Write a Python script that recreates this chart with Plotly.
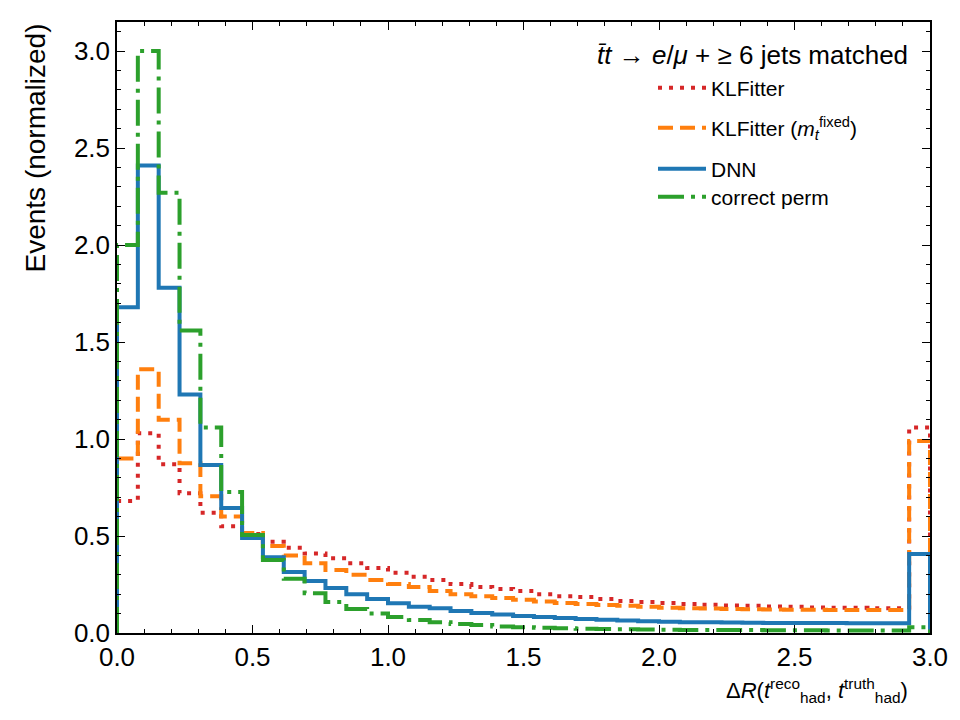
import plotly.graph_objects as go

# ---- data (39 bins from 0 to 3.0, last bin = overflow) ----
x_min = 0.0
x_max = 3.0
n_bins = 39

klfitter = [0.68, 1.03, 0.87, 0.72, 0.62, 0.55, 0.51, 0.47, 0.44, 0.41,
            0.385, 0.36, 0.335, 0.31, 0.29, 0.273, 0.252, 0.237, 0.227, 0.216,
            0.200, 0.190, 0.185, 0.175, 0.165, 0.160, 0.155, 0.150, 0.145, 0.142,
            0.140, 0.137, 0.135, 0.132, 0.130, 0.130, 0.128, 0.127, 1.06]
klfitter_fixed = [0.90, 1.36, 1.10, 0.875, 0.705, 0.60, 0.515, 0.448, 0.40, 0.36,
                  0.325, 0.30, 0.273, 0.252, 0.237, 0.216, 0.200, 0.190, 0.180, 0.172,
                  0.162, 0.155, 0.150, 0.144, 0.140, 0.135, 0.130, 0.128, 0.126, 0.124,
                  0.122, 0.121, 0.120, 0.120, 0.119, 0.118, 0.118, 0.118, 0.99]
dnn = [1.68, 2.41, 1.78, 1.23, 0.866, 0.644, 0.49, 0.39, 0.315, 0.268,
       0.232, 0.200, 0.175, 0.154, 0.135, 0.127, 0.113, 0.103, 0.095, 0.088,
       0.082, 0.077, 0.072, 0.068, 0.064, 0.060, 0.058, 0.056, 0.055, 0.054,
       0.053, 0.052, 0.052, 0.051, 0.051, 0.050, 0.050, 0.050, 0.407]
correct_perm = [2.00, 3.00, 2.27, 1.56, 1.06, 0.727, 0.505, 0.376, 0.28, 0.205,
                0.160, 0.124, 0.100, 0.083, 0.067, 0.056, 0.046, 0.041, 0.034, 0.030,
                0.027, 0.025, 0.022, 0.020, 0.019, 0.018, 0.017, 0.016, 0.016, 0.015,
                0.015, 0.014, 0.014, 0.014, 0.013, 0.013, 0.013, 0.013, 0.030]

x_ticks = [0.0, 0.5, 1.0, 1.5, 2.0, 2.5, 3.0]
y_ticks = [0.0, 0.5, 1.0, 1.5, 2.0, 2.5, 3.0]

names = ["KLFitter",
         "KLFitter (<i>m</i><sub><i>t</i></sub><sup>fixed</sup>)",
         "DNN",
         "correct perm"]
colors = ["#d62728", "#ff7f0e", "#1f77b4", "#2ca02c"]
dashes = ["4px,7px", "15px,7px", "solid", "26px,7px,4px,7px"]
widths = [4, 4, 4, 4]

edges = [x_min + (x_max - x_min) * i / n_bins for i in range(n_bins + 1)]


def step_xy(vals):
    xs = [edges[0]] + edges + [edges[-1]]
    ys = [0.0] + list(vals) + [vals[-1], 0.0]
    return xs, ys


legend_ids = ["legend", "legend2", "legend3", "legend4"]

fig = go.Figure()
for i, (vals, nm, c, d, w) in enumerate(zip(
        [klfitter, klfitter_fixed, dnn, correct_perm], names, colors, dashes, widths)):
    xs, ys = step_xy(vals)
    fig.add_trace(go.Scatter(x=xs, y=ys, mode="lines", name=nm,
                             legend=legend_ids[i],
                             line=dict(color=c, width=w, dash=d, shape="hv")))

font_family = "Liberation Sans, Arial, sans-serif"

axis_common = dict(
    showline=True, linecolor="black", linewidth=1.5, mirror="allticks",
    ticks="inside", ticklen=8, tickwidth=1.3, tickcolor="black",
    showgrid=False, zeroline=False,
    tickfont=dict(family=font_family, size=26, color="black"),
    tickformat=".1f",
)

# plot-area geometry (pixels) used to place legends/annotations
L, R, T, B = 117, 30, 22, 87
W, H = 960, 720
pw, ph = W - L - R, H - T - B


def px_x(px):
    return (px - L) / pw


def px_y(py):
    return (H - B - py) / ph


legend_rows = [88, 128, 169, 197]
legend_font = dict(family=font_family, size=21, color="black")
legend_common = dict(xanchor="left", yanchor="middle",
                     bgcolor="rgba(0,0,0,0)", borderwidth=0,
                     itemwidth=48, font=legend_font)

fig.update_layout(
    width=W, height=H,
    margin=dict(l=L, r=R, t=T, b=B),
    plot_bgcolor="white", paper_bgcolor="white",
    font=dict(family=font_family, size=21, color="black"),
    xaxis=dict(range=[x_min, x_max], tickvals=x_ticks,
               minor=dict(dtick=0.1, ticks="inside", ticklen=4, tickcolor="black", tickwidth=1),
               **axis_common),
    yaxis=dict(range=[0, 3.15], tickvals=y_ticks,
               minor=dict(dtick=0.1, ticks="inside", ticklen=4, tickcolor="black", tickwidth=1),
               **axis_common),
    showlegend=True,
    legend=dict(x=px_x(653), y=px_y(legend_rows[0]), **legend_common),
    legend2=dict(x=px_x(653), y=px_y(legend_rows[1]), **legend_common),
    legend3=dict(x=px_x(653), y=px_y(legend_rows[2]), **legend_common),
    legend4=dict(x=px_x(653), y=px_y(legend_rows[3]), **legend_common),
    annotations=[
        dict(text="<i>t̄t</i> → <i>e</i>/<i>μ</i> + ≥ 6 jets matched",
             xref="paper", yref="paper", x=px_x(910), y=px_y(55),
             xanchor="right", yanchor="middle", showarrow=False,
             font=dict(family=font_family, size=26, color="black")),
        dict(text="Events (normalized)",
             xref="paper", yref="paper", x=px_x(35), y=px_y(22),
             xanchor="center", yanchor="top", textangle=-90, showarrow=False,
             font=dict(family=font_family, size=28, color="black")),
        dict(text="Δ<i>R</i>(<i>t</i><sup>reco</sup><sub>had</sub>, <i>t</i><sup>truth</sup><sub>had</sub>)",
             xref="paper", yref="paper", x=px_x(910), y=px_y(690),
             xanchor="right", yanchor="middle", showarrow=False,
             font=dict(family=font_family, size=22, color="black")),
    ],
)

fig.write_html("out.html")
